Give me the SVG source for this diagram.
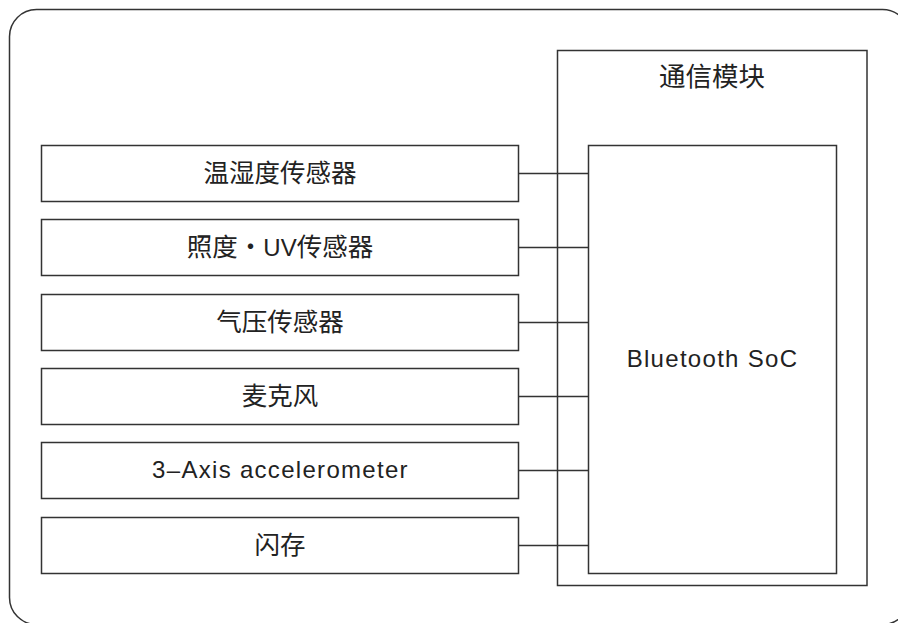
<svg xmlns="http://www.w3.org/2000/svg" width="898" height="623" viewBox="0 0 898 623">
<style>
.b{fill:#fff;stroke:#333;stroke-width:1.5}
.c{fill:none;stroke:#333;stroke-width:1.5}
text{font-family:"Liberation Sans","Noto Sans CJK SC",sans-serif;fill:#222;text-anchor:middle}
.cj{font-size:25.5px}
.en{font-size:24px;letter-spacing:1.3px}
</style>
<rect width="898" height="623" fill="#fff"/>
<rect id="frame" x="9.5" y="9.5" width="900" height="615" rx="27" class="c"/>
<g id="comm"><rect x="557.5" y="50.5" width="309.5" height="535" class="b"/><text x="712" y="86" class="cj" style="font-size:26.5px">通信模块</text></g>
<g id="soc"><rect x="588.5" y="145.5" width="248" height="428" class="b"/><text x="712.5" y="367" class="en">Bluetooth SoC</text></g>
<g id="n1"><rect x="41.5" y="145.5" width="477" height="56" class="b"/><text x="280" y="182" class="cj">温湿度传感器</text></g>
<g id="n2"><rect x="41.5" y="219.5" width="477" height="56" class="b"/><text x="280" y="256" class="cj">照度・<tspan style="font-size:24px">UV</tspan>传感器</text></g>
<g id="n3"><rect x="41.5" y="294.5" width="477" height="56" class="b"/><text x="280" y="331" class="cj">气压传感器</text></g>
<g id="n4"><rect x="41.5" y="368.5" width="477" height="56" class="b"/><text x="280" y="405" class="cj">麦克风</text></g>
<g id="n5"><rect x="41.5" y="442.5" width="477" height="56" class="b"/><text x="280.5" y="478" class="en">3–Axis accelerometer</text></g>
<g id="n6"><rect x="41.5" y="517.5" width="477" height="56" class="b"/><text x="280" y="554" class="cj">闪存</text></g>
<g id="connectors">
<line x1="518.5" y1="173.5" x2="588.5" y2="173.5" class="c"/>
<line x1="518.5" y1="247.5" x2="588.5" y2="247.5" class="c"/>
<line x1="518.5" y1="322.5" x2="588.5" y2="322.5" class="c"/>
<line x1="518.5" y1="396.5" x2="588.5" y2="396.5" class="c"/>
<line x1="518.5" y1="470.5" x2="588.5" y2="470.5" class="c"/>
<line x1="518.5" y1="545.5" x2="588.5" y2="545.5" class="c"/>
</g>
</svg>
